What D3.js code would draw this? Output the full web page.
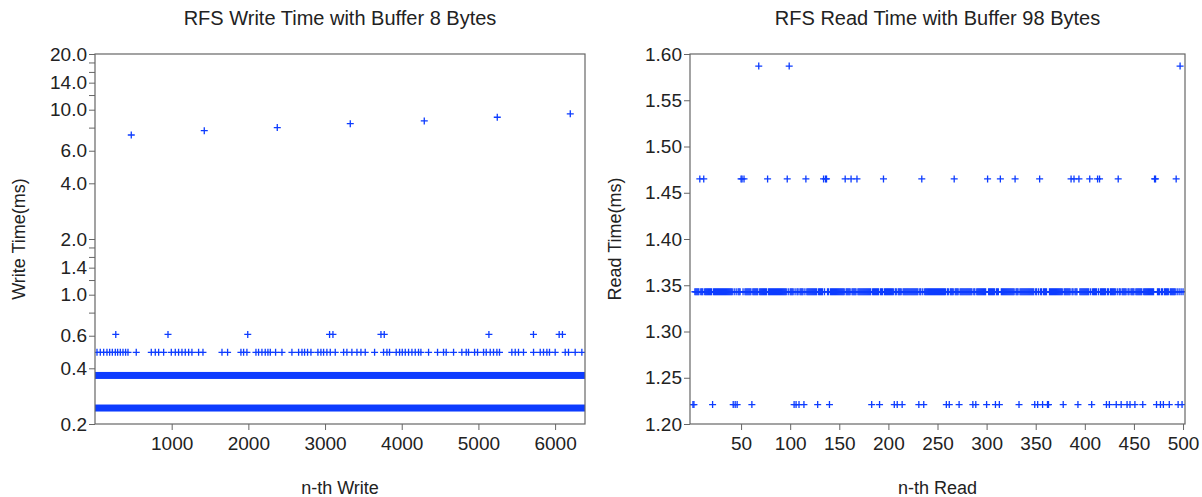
<!DOCTYPE html>
<html>
<head>
<meta charset="utf-8">
<script src="https://cdn.jsdelivr.net/npm/d3@7"></script>
<style>
  body { margin: 0; background: #fff; }
  svg { font-family: "Liberation Sans", Arial, sans-serif; }
  .tick text { fill: #222; }
  .tick line, .domain { stroke: #666; }
</style>
</head>
<body>
<script>
'use strict';

// ---- write chart data (n-th write, ms) ----
const writeDomain = [0, 6390];
const writeBandLevels = [0.244, 0.366];          // every write sits on one of these
const writeBandExtent = [1, 6390];
const writeMidLevel = 0.488;
const writeMidN = [26, 69, 113, 156, 191, 226, 265, 295, 330, 365, 399, 430, 538,
  734, 786, 830, 895, 995, 1047, 1090, 1134, 1177, 1221, 1264, 1351, 1408, 1656, 1729,
  1903, 1938, 1981, 2099, 2133, 2177, 2220, 2255, 2286, 2355, 2438, 2568, 2655, 2699,
  2733, 2772, 2816, 2907, 2946, 2981, 3024, 3068, 3133, 3242, 3285, 3350, 3416, 3468,
  3524, 3646, 3763, 3807, 3841, 3928, 3972, 4007, 4046, 4089, 4133, 4176, 4219, 4250,
  4350, 4467, 4545, 4580, 4676, 4784, 4841, 4871, 4950, 4989, 5067, 5102, 5154, 5197,
  5241, 5275, 5436, 5480, 5523, 5588, 5719, 5806, 5849, 5893, 5927, 6001, 6132, 6175,
  6262, 6349];
const writeHighLevel = 0.610;
const writeHighN = [271, 952, 1992, 3059, 3103, 3729, 3772, 5137, 5718, 6053, 6096];
const writePeakN = [473, 1425, 2377, 3329, 4294, 5246, 6198];
const writePeakMs = [7.3, 7.7, 8.0, 8.4, 8.7, 9.1, 9.5];

const writeXTicks = [1000, 2000, 3000, 4000, 5000, 6000];
const writeYLabelled = [20, 14, 10, 6, 4, 2, 1.4, 1.0, 0.6, 0.4, 0.2];
const writeYMinor = [18, 16, 12, 8, 1.8, 1.6, 1.2, 0.8];

// ---- read chart data (n-th read, ms) ----
const readCount = 500;
const readDomain = [-2, 502];
const readLevels = [1.221, 1.343, 1.465, 1.587];
const readLowN = [1, 2, 21, 42, 44, 46, 61, 104, 106, 109, 114, 128, 140, 183, 191, 206,
  209, 214, 231, 236, 259, 262, 272, 286, 289, 300, 309, 313, 333, 349, 352, 357, 362,
  363, 378, 393, 407, 422, 425, 432, 437, 443, 446, 451, 459, 473, 477, 480, 486, 495, 499];
const readHighN = [8, 12, 50, 51, 53, 77, 97, 116, 134, 136, 137, 156, 162, 168, 195, 234,
  267, 301, 314, 329, 354, 386, 389, 394, 405, 413, 415, 434, 471, 472, 493];
const readTopN = [68, 99, 497];
const readXTicks = [50, 100, 150, 200, 250, 300, 350, 400, 450, 500];
const readYTicks = [1.20, 1.25, 1.30, 1.35, 1.40, 1.45, 1.50, 1.55, 1.60];

const blue = '#0d3cff';
const arm = 3.5;
const tickFont = '19px';

const svg = d3.select('body').append('svg')
  .attr('width', 1202)
  .attr('height', 497);

function panel(opt) {
  const w = opt.width;
  const h = opt.height;
  const g = svg.append('g').attr('transform', 'translate(' + [opt.left, opt.top] + ')');

  opt.x.range([0, w]);
  opt.y.range([h, 0]);

  const clipId = 'clip-' + opt.id;
  g.append('clipPath').attr('id', clipId)
    .append('rect').attr('width', w).attr('height', h);

  const marks = g.append('g').attr('clip-path', 'url(#' + clipId + ')');

  (opt.bands || []).forEach(b => {
    marks.append('rect')
      .attr('x', opt.x(b.from) - arm)
      .attr('width', opt.x(b.to) - opt.x(b.from) + 2 * arm)
      .attr('y', opt.y(b.v) - arm)
      .attr('height', 2 * arm)
      .attr('fill', blue);
  });

  marks.selectAll('path.pt')
    .data(opt.points)
    .enter()
    .append('path')
    .attr('class', 'pt')
    .attr('d', 'M' + (-arm) + ',0H' + arm + 'M0,' + (-arm) + 'V' + arm)
    .attr('transform', d => 'translate(' + [opt.x(d.n), opt.y(d.v)] + ')')
    .attr('stroke', blue)
    .attr('stroke-width', 1.3)
    .attr('fill', 'none');

  const xAxis = g.append('g')
    .attr('transform', 'translate(0,' + h + ')')
    .call(d3.axisBottom(opt.x).tickValues(opt.xTicks).tickFormat(d3.format('d')).tickSizeOuter(0).tickSize(6));
  const yAxis = g.append('g')
    .call(d3.axisLeft(opt.y).tickValues(opt.yTicks).tickFormat(opt.yFormat).tickSizeOuter(0).tickSize(6));

  [xAxis, yAxis].forEach(a => {
    a.select('.domain').remove();
    a.selectAll('text').style('font-size', tickFont);
  });
  xAxis.selectAll('text').attr('dy', '0.92em');
  yAxis.selectAll('text').attr('x', -8);

  g.append('rect')
    .attr('width', w).attr('height', h)
    .attr('fill', 'none')
    .attr('stroke', '#666')
    .attr('stroke-width', 1.2);

  g.append('text')
    .attr('x', w / 2).attr('y', -29)
    .attr('text-anchor', 'middle')
    .style('font-size', '20px')
    .attr('fill', '#222')
    .text(opt.title);

  g.append('text')
    .attr('x', w / 2).attr('y', h + 70)
    .attr('text-anchor', 'middle')
    .style('font-size', '18px')
    .attr('fill', '#222')
    .text(opt.xLabel);

  g.append('text')
    .attr('transform', 'translate(' + (opt.yLabelX) + ',' + (h / 2) + ') rotate(-90)')
    .attr('text-anchor', 'middle')
    .style('font-size', '18px')
    .attr('fill', '#222')
    .text(opt.yLabel);
}

// write panel
const writePoints = []
  .concat(writeMidN.map(n => ({n, v: writeMidLevel})))
  .concat(writeHighN.map(n => ({n, v: writeHighLevel})))
  .concat(writePeakN.map((n, i) => ({n, v: writePeakMs[i]})));

const yTickFmt = d => writeYLabelled.includes(d) ? d3.format('.1f')(d) : '';

panel({
  id: 'write',
  left: 95, top: 54, width: 490, height: 370,
  x: d3.scaleLinear().domain(writeDomain),
  y: d3.scaleLog().domain([0.2, 20]),
  xTicks: writeXTicks,
  yTicks: writeYLabelled.concat(writeYMinor),
  yFormat: yTickFmt,
  bands: writeBandLevels.map(v => ({v, from: writeBandExtent[0], to: writeBandExtent[1]})),
  points: writePoints,
  title: 'RFS Write Time with Buffer 8 Bytes',
  xLabel: 'n-th Write',
  yLabel: 'Write Time(ms)',
  yLabelX: -70
});

// read panel: each read has one time; the ones not listed elsewhere sit at 1.343
const readOther = new Set([].concat(readLowN, readHighN, readTopN));
const readMidN = d3.range(1, readCount + 1).filter(n => !readOther.has(n));
const readPoints = []
  .concat(readLowN.map(n => ({n, v: readLevels[0]})))
  .concat(readMidN.map(n => ({n, v: readLevels[1]})))
  .concat(readHighN.map(n => ({n, v: readLevels[2]})))
  .concat(readTopN.map(n => ({n, v: readLevels[3]})));

panel({
  id: 'read',
  left: 690, top: 54, width: 495, height: 370,
  x: d3.scaleLinear().domain(readDomain),
  y: d3.scaleLinear().domain([1.2, 1.6]),
  xTicks: readXTicks,
  yTicks: readYTicks,
  yFormat: d3.format('.2f'),
  points: readPoints,
  title: 'RFS Read Time with Buffer 98 Bytes',
  xLabel: 'n-th Read',
  yLabel: 'Read Time(ms)',
  yLabelX: -69
});
</script>
</body>
</html>
